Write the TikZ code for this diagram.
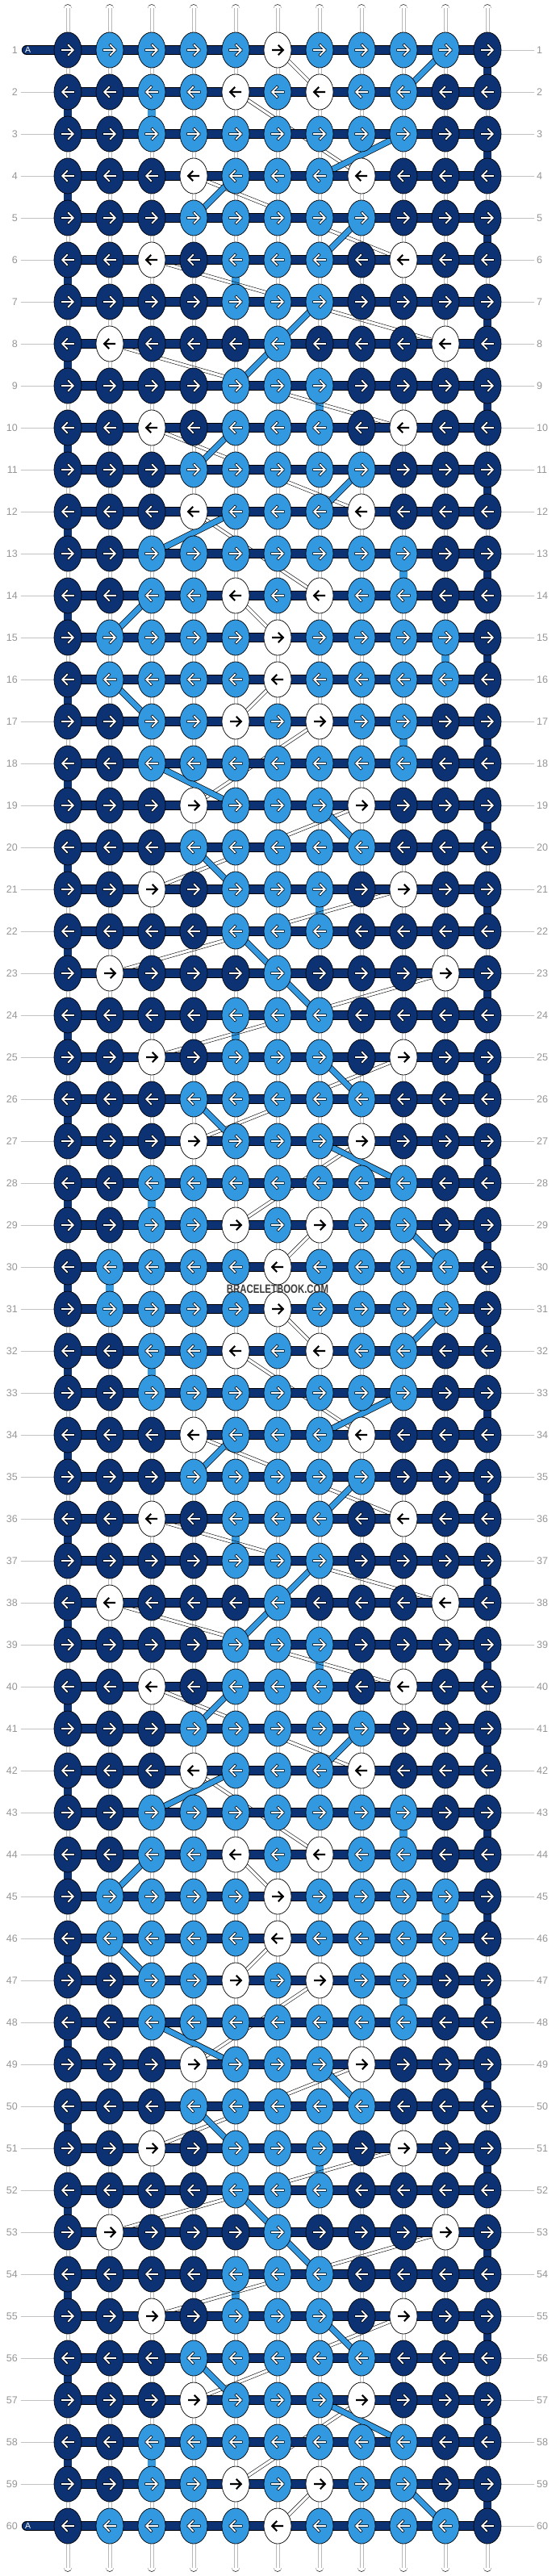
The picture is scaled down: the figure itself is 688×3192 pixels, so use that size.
\documentclass[tikz,border=0pt]{standalone}
\usepackage{fontspec}
\setmainfont{Liberation Sans}
\usetikzlibrary{calc,shapes.geometric}
\definecolor{navy}{RGB}{12,50,116}
\definecolor{lblue}{RGB}{50,152,224}
\definecolor{labtxt}{RGB}{150,150,150}
\definecolor{labln}{RGB}{195,195,195}
\definecolor{innerg}{RGB}{185,185,185}
\definecolor{wmgray}{RGB}{60,60,60}
\pgfdeclarelayer{back}
\pgfdeclarelayer{vert}
\pgfdeclarelayer{diag}
\pgfdeclarelayer{bars}
\pgfsetlayers{back,vert,diag,bars,main}
\expandafter\def\csname prow1\endcsname{D,L,L,L,L,W,L,L,L,L,D}
\expandafter\def\csname prow2\endcsname{D,D,L,L,W,L,W,L,L,D,D}
\expandafter\def\csname prow3\endcsname{D,D,L,L,L,L,L,L,L,D,D}
\expandafter\def\csname prow4\endcsname{D,D,D,W,L,L,L,W,D,D,D}
\expandafter\def\csname prow5\endcsname{D,D,D,L,L,L,L,L,D,D,D}
\expandafter\def\csname prow6\endcsname{D,D,W,D,L,L,L,D,W,D,D}
\expandafter\def\csname prow7\endcsname{D,D,D,D,L,L,L,D,D,D,D}
\expandafter\def\csname prow8\endcsname{D,W,D,D,D,L,D,D,D,W,D}
\tikzset{
  knot/.style={ellipse, draw=black, line width=0.7pt, minimum width=34pt, minimum height=44pt, inner sep=0pt},
  knotD/.style={knot, fill=navy},
  knotL/.style={knot, fill=lblue},
  knotW/.style={knot, fill=white},
  bar/.style={draw=black, line width=0.7pt, double=navy, double distance=10.8pt},
  vseg/.style={draw=black, line width=0.7pt, double=white, double distance=9.2pt},
  vinner/.style={draw=innerg, line width=0.5pt},
  lbs/.style={draw=black, line width=0.7pt, double=lblue, double distance=6.5pt},
  thinw/.style={draw=black, line width=0.45pt},
  lbl/.style={font=\fontsize{12.5}{13}\selectfont, text=labtxt, inner sep=0pt},
  labline/.style={draw=labln, line width=0.8pt},
}
\begin{document}
\begin{tikzpicture}[x=1pt,y=-1pt]
\begin{pgfonlayer}{back}
\path[use as bounding box, fill=white] (0,0) rectangle (688,3192);
\end{pgfonlayer}
% knots
\foreach \r in {1,...,60}{
  \pgfmathtruncatemacro\m{mod(\r-1,15)+1}
  \pgfmathtruncatemacro\ai{\m<=8 ? \m : 16-\m}
  \pgfmathtruncatemacro\dir{mod(\r,2)==1 ? 1 : -1}
  \pgfmathsetmacro\y{62+52*(\r-1)}
  \edef\currow{\csname prow\ai\endcsname}
  \foreach \kc [count=\cl] in \currow {
    \pgfmathsetmacro\x{84+52*(\cl-1)}
    \node[knot\kc] (k-\r-\cl) at (\x,\y) {};
    \pgfmathsetmacro\xa{\x-7*\dir}
    \pgfmathsetmacro\xb{\x+6.8*\dir}
    \pgfmathsetmacro\xh{\x+0.8*\dir}
    \pgfmathsetmacro\yu{\y-6.2}
    \pgfmathsetmacro\yd{\y+6.2}
    \if W\kc
      \draw[black, line width=2.1pt, line join=miter, line cap=butt] (\xa,\y) -- (\xb,\y) (\xh,\yu) -- (\xb,\y) -- (\xh,\yd);
    \else
      \draw[black, line width=3.2pt, line join=round, line cap=rect] (\xa,\y) -- (\xb,\y) (\xh,\yu) -- (\xb,\y) -- (\xh,\yd);
      \draw[white, line width=1.8pt, line join=round, line cap=rect] (\xa,\y) -- (\xb,\y) (\xh,\yu) -- (\xb,\y) -- (\xh,\yd);
    \fi
  }
  \node[lbl, anchor=east] (ll-\r) at (22,\y) {\r};
  \node[lbl, anchor=west] (lr-\r) at (665,\y) {\r};
}
% light blue vertical segments
\foreach \r/\cl in {2/3,6/5,9/7,13/9,15/10,17/9,21/7,24/5,28/3,30/2,32/3,36/5,39/7,43/9,45/10,47/9,51/7,54/5,58/3}{
  \expandafter\gdef\csname lb\r-\cl\endcsname{}}
\begin{pgfonlayer}{vert}
% label lines
\foreach \r in {1,...,60}{
  \ifnum\r=1\else\ifnum\r=60\else
    \draw[labline] ([xshift=4pt]ll-\r.east) -- (k-\r-1.center);
  \fi\fi
  \draw[labline] (k-\r-11.center) -- ([xshift=-3pt]lr-\r.west);
}
% top and bottom stubs
\foreach \cl in {1,...,11}{
  \pgfmathsetmacro\x{84+52*(\cl-1)}
  \coordinate (top-\cl) at (\x,10.5);
  \coordinate (bot-\cl) at (\x,3181.5);
  \draw[vseg, line cap=round] (top-\cl) -- (k-1-\cl.center);
  \draw[vinner] ([xshift=-1.8pt]top-\cl) -- ([xshift=-1.8pt]k-1-\cl.center);
  \draw[vinner] ([xshift=1.8pt]top-\cl) -- ([xshift=1.8pt]k-1-\cl.center);
  \draw[vseg, line cap=round] (k-60-\cl.center) -- (bot-\cl);
  \draw[vinner] ([xshift=-1.8pt]k-60-\cl.center) -- ([xshift=-1.8pt]bot-\cl);
  \draw[vinner] ([xshift=1.8pt]k-60-\cl.center) -- ([xshift=1.8pt]bot-\cl);
}
% vertical segments
\foreach \r in {1,...,59}{
  \pgfmathtruncatemacro\rn{\r+1}
  \pgfmathtruncatemacro\isodd{mod(\r,2)}
  \foreach \cl in {1,...,11}{
    \def\vc{W}
    \ifnum\cl=11 \ifnum\isodd=1 \def\vc{N}\fi\fi
    \ifnum\cl=1 \ifnum\isodd=0 \def\vc{N}\fi\fi
    \ifcsname lb\r-\cl\endcsname \def\vc{L}\fi
    \if W\vc
      \draw[vseg] (k-\r-\cl.center) -- (k-\rn-\cl.center);
      \draw[vinner] ([xshift=-1.8pt]k-\r-\cl.center) -- ([xshift=-1.8pt]k-\rn-\cl.center);
      \draw[vinner] ([xshift=1.8pt]k-\r-\cl.center) -- ([xshift=1.8pt]k-\rn-\cl.center);
    \else
      \if N\vc
        \draw[vseg, double=navy] (k-\r-\cl.center) -- (k-\rn-\cl.center);
      \else
        \draw[vseg, double=lblue] (k-\r-\cl.center) -- (k-\rn-\cl.center);
      \fi
    \fi
  }
}
\end{pgfonlayer}
% diagonal strands
\begin{pgfonlayer}{diag}
\foreach \ra/\ca/\rb/\cb in {1/6/2/7, 2/5/4/8, 4/4/6/9, 6/3/8/10, 8/2/10/9, 10/3/12/8, 12/4/14/7, 14/5/15/6}{
  \foreach \off in {0,30}{
    \pgfmathtruncatemacro\ta{\ra+\off}
    \pgfmathtruncatemacro\tb{\rb+\off}
    \draw[thinw] ($(k-\ta-\ca.center)!2pt!90:(k-\tb-\cb.center)$) -- ($(k-\tb-\cb.center)!2pt!-90:(k-\ta-\ca.center)$);
    \draw[thinw] ($(k-\ta-\ca.center)!2pt!-90:(k-\tb-\cb.center)$) -- ($(k-\tb-\cb.center)!2pt!90:(k-\ta-\ca.center)$);
    \pgfmathtruncatemacro\ta{31-\ra+\off}
    \pgfmathtruncatemacro\tb{31-\rb+\off}
    \draw[thinw] ($(k-\ta-\ca.center)!2pt!90:(k-\tb-\cb.center)$) -- ($(k-\tb-\cb.center)!2pt!-90:(k-\ta-\ca.center)$);
    \draw[thinw] ($(k-\ta-\ca.center)!2pt!-90:(k-\tb-\cb.center)$) -- ($(k-\tb-\cb.center)!2pt!90:(k-\ta-\ca.center)$);
  }
}
\foreach \ra/\ca/\rb/\cb in {1/10/2/9, 3/9/4/7, 4/5/5/4, 5/8/6/7, 7/7/8/6, 8/6/9/5, 10/5/11/4, 11/8/12/7, 12/5/13/3, 14/3/15/2}{
  \foreach \off in {0,30}{
    \pgfmathtruncatemacro\ta{\ra+\off}
    \pgfmathtruncatemacro\tb{\rb+\off}
    \draw[lbs] (k-\ta-\ca.center) -- (k-\tb-\cb.center);
    \pgfmathtruncatemacro\ta{31-\ra+\off}
    \pgfmathtruncatemacro\tb{31-\rb+\off}
    \draw[lbs] (k-\ta-\ca.center) -- (k-\tb-\cb.center);
  }
}
\end{pgfonlayer}
% horizontal bars
\begin{pgfonlayer}{bars}
\foreach \r in {2,...,59}{
  \draw[bar] (k-\r-1.center) -- (k-\r-11.center);
}
\foreach \r in {1,60}{
  \pgfmathsetmacro\y{62+52*(\r-1)}
  \coordinate (tabend-\r) at (33,\y);
  \draw[bar, line cap=round] (tabend-\r) -- (k-\r-11.center);
  \node[font=\fontsize{10.5}{11}\selectfont, text=white, anchor=west, inner sep=0pt] (tabA-\r) at (31,\y) {A};
}
\end{pgfonlayer}
\node[font=\bfseries\fontsize{15}{15}\selectfont, text=wmgray, xscale=0.76, inner sep=0pt] (wm) at (344,1597) {BRACELETBOOK.COM};
\end{tikzpicture}
\end{document}
